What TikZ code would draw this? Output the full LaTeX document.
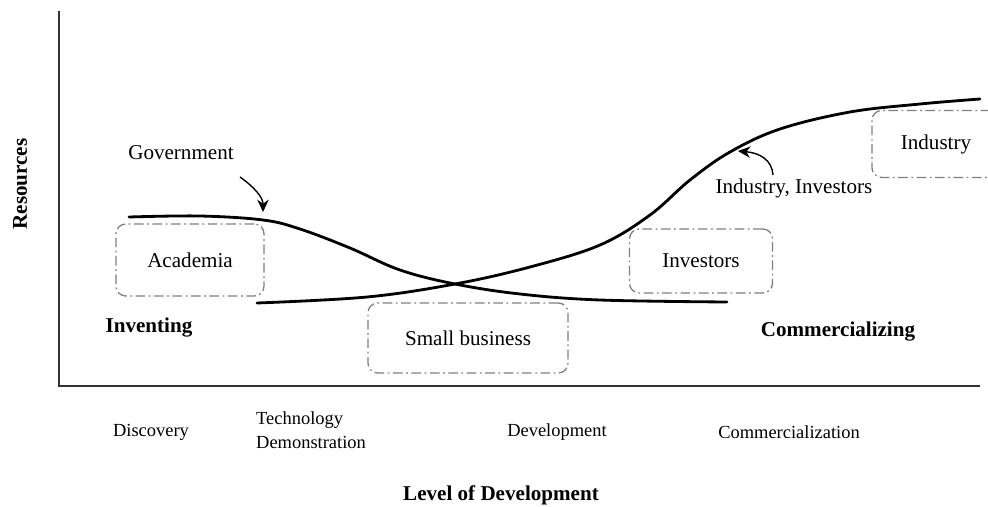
\documentclass[tikz,border=0pt]{standalone}
\usepackage{fontspec}
\setmainfont{Liberation Serif}
\usetikzlibrary{arrows.meta}

\tikzset{
  player/.style={draw=gray, line width=0.75pt, rounded corners=5.5pt,
    dash pattern=on 5.5pt off 2pt on 1pt off 2pt,
    font=\fontsize{12}{14}\selectfont},
  stage/.style={font=\fontsize{10.5}{13.5}\selectfont},
  phase/.style={font=\fontsize{12}{14}\selectfont\bfseries},
  resource/.style={line width=1.6pt, line cap=round},
  pointer/.style={line width=0.8pt, -{Stealth[length=7pt,width=6.5pt]}}
}

\begin{document}
\begin{tikzpicture}[x=0.02cm, y=-0.02cm]
\useasboundingbox (0,0) rectangle (988,507);

% Draw the axes
\draw[line width=1pt, black!80] (59,11) -- (59,386) -- (980,386);
\node[phase, rotate=90] (ylabel) at (20,184) {Resources};
\node[phase] (xlabel) at (501,495) {Level of Development};

% Stages along the bottom
\node[stage] (discovery) at (151,432) {Discovery};
\node[stage, anchor=west, align=left] (techdemo) at (250,430) {Technology\\Demonstration};
\node[stage] (devel) at (557,432) {Development};
\node[stage] (commercialization) at (789,432) {Commercialization};

% Who carries each stage
\node[player, minimum width=2.96cm, minimum height=1.44cm] (acad) at (190,260) {Academia};
\node[player, minimum width=4cm, minimum height=1.4cm] (smallbiz) at (468,338) {Small business};
\node[player, minimum width=2.86cm, minimum height=1.28cm] (investors) at (701,261) {Investors};
\node[player, minimum width=2.56cm, minimum height=1.34cm] (industry) at (936,144) {Industry};

\node[phase] (inventing) at (149,328) {Inventing};
\node[phase] (commerc) at (838,332) {Commercializing};

% Resource curves
\draw[resource] plot[smooth, tension=0.6] coordinates {(129,217) (200,216) (263,220) (300,229)
  (350,248) (400,270) (455,284) (520,294) (600,300) (727,302)};
\draw[resource] plot[smooth, tension=0.6] coordinates {(257,303) (367,297) (455,284) (530,267)
  (600,245) (650,215) (690,180) (730,152) (780,129) (850,112) (920,104) (980,99)};

% Labels pointing at the curves
\node[font=\fontsize{12}{14}\selectfont] (gov) at (181,153) {Government};
\coordinate (govtail) at (240,177);
\coordinate (govtip) at (263,212);
\draw[pointer] (govtail) .. controls (254,187) and (263,197) .. (govtip);

\node[font=\fontsize{12}{14}\selectfont] (indinv) at (794,188) {Industry, Investors};
\coordinate (indtail) at (773,175);
\coordinate (indtip) at (738,151);
\draw[pointer] (indtail) .. controls (772,160) and (760,153) .. (indtip);
\end{tikzpicture}
\end{document}
